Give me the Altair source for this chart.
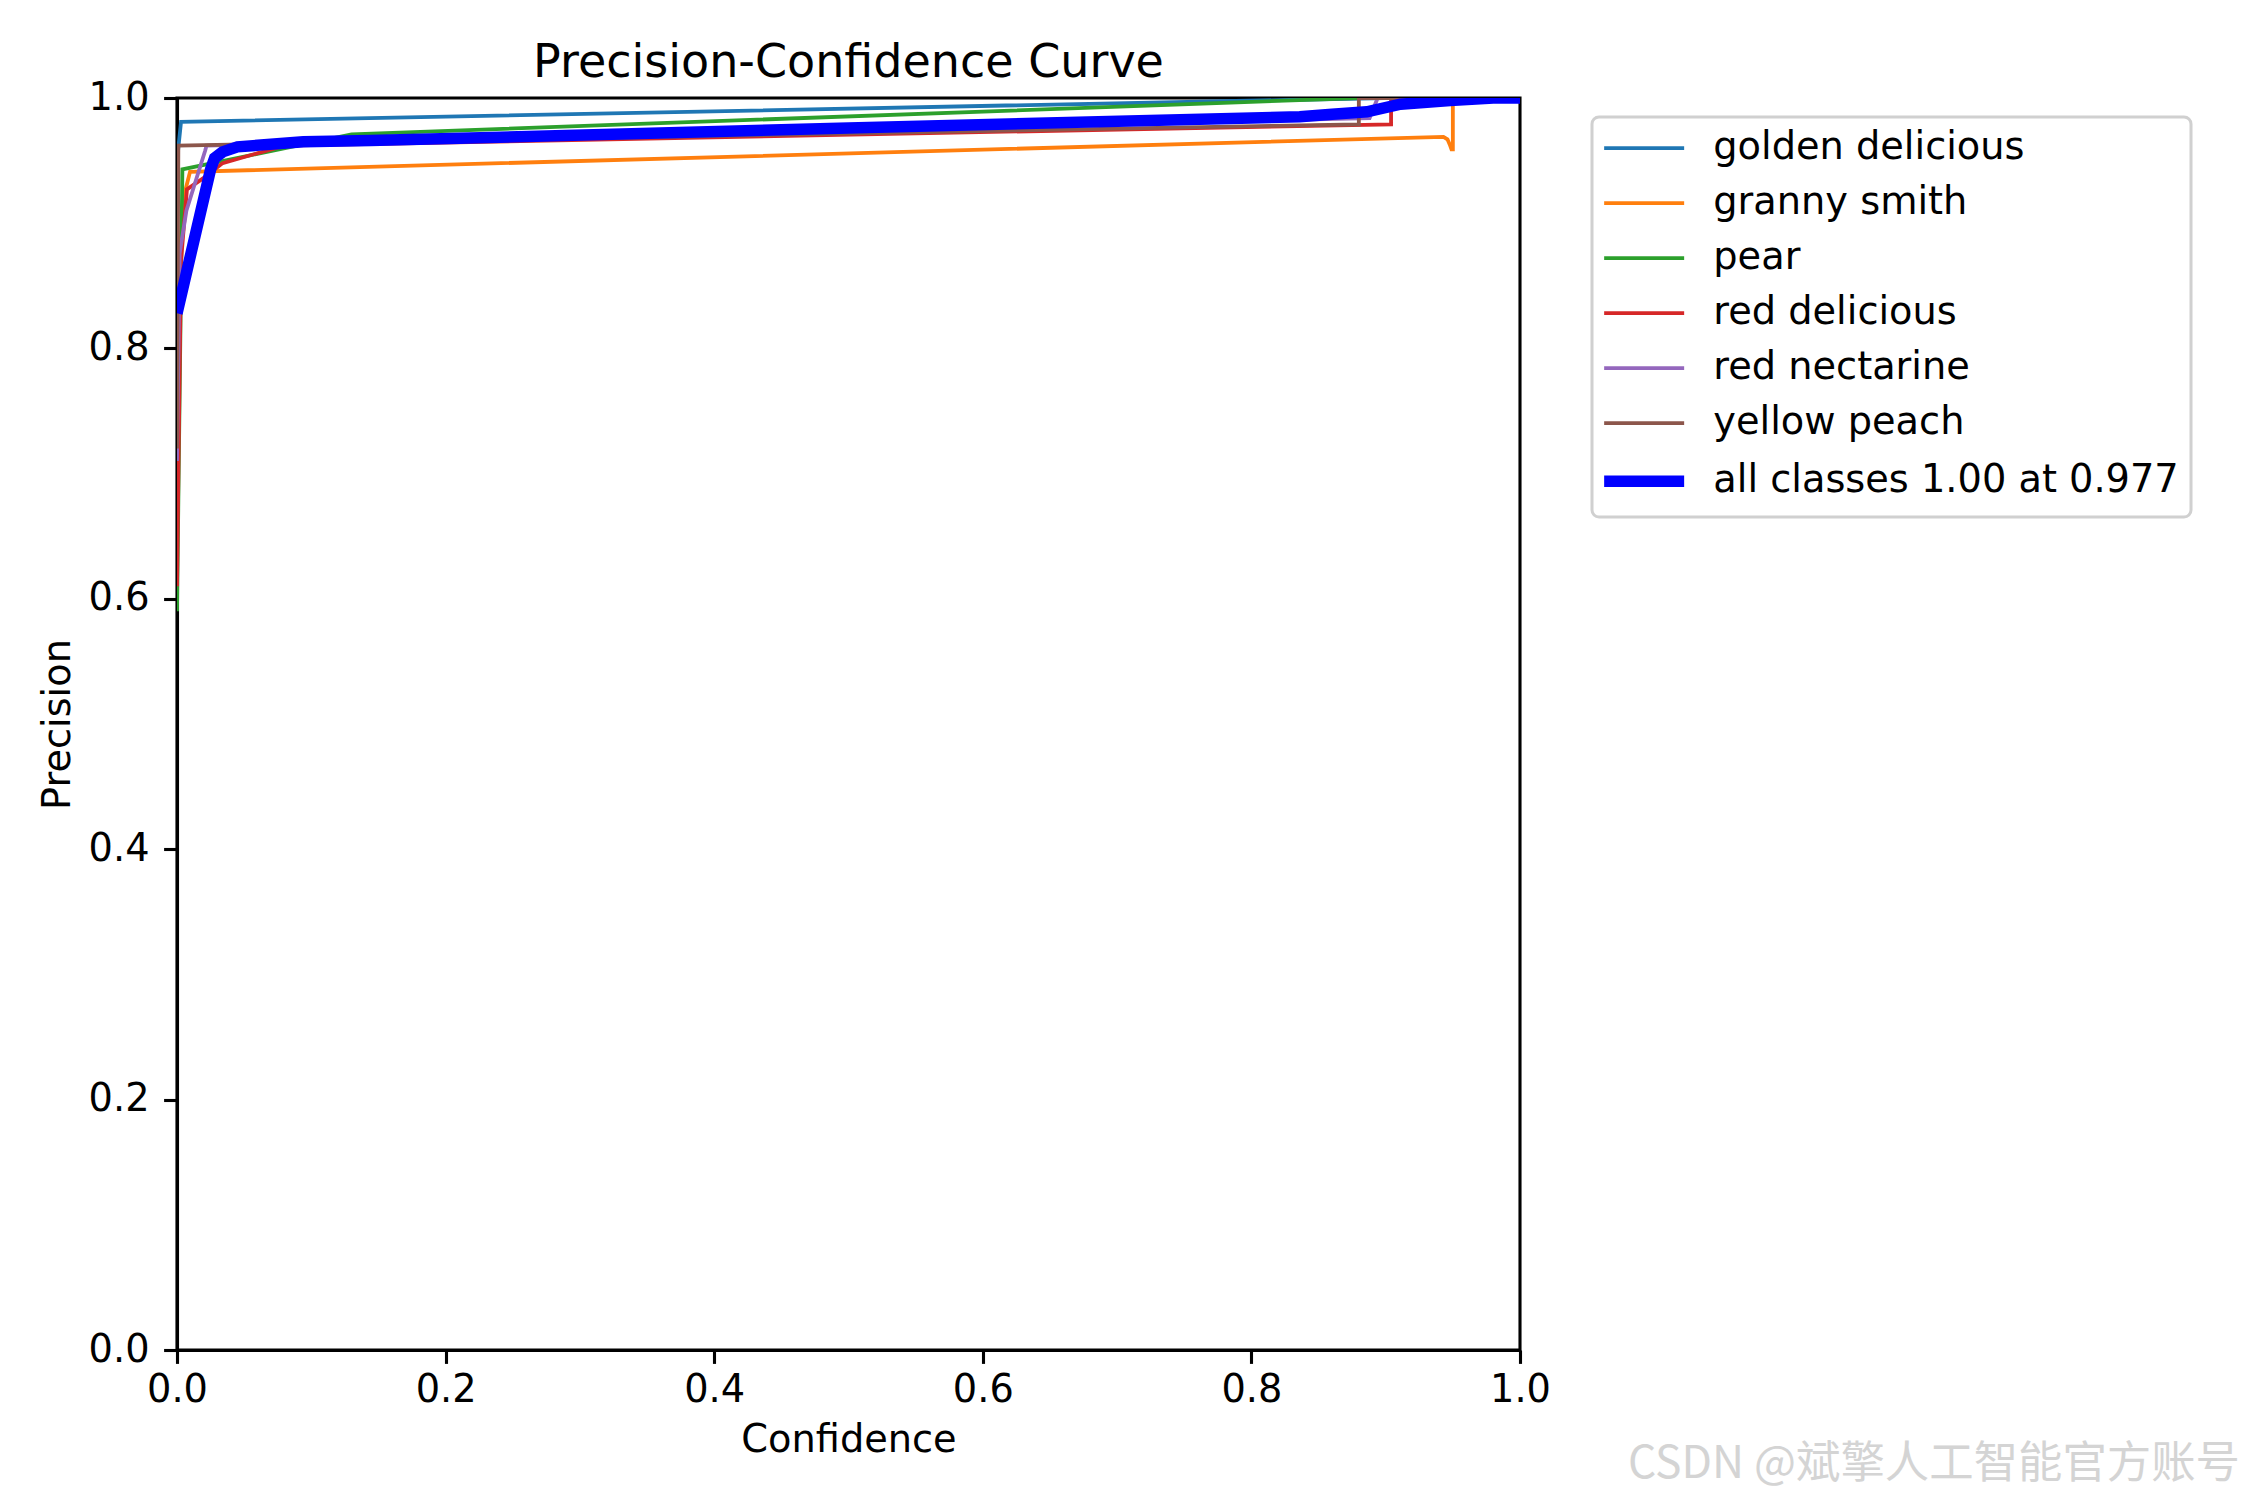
import altair as alt
import pandas as pd

ALL = "all classes 1.00 at 0.977"
series_names = ["golden delicious", "granny smith", "pear", "red delicious",
                "red nectarine", "yellow peach", ALL]
series_colors = ["#1f77b4", "#ff7f0e", "#2ca02c", "#d62728", "#9467bd", "#8c564b", "#0000ff"]

gd_x = [0.0, 0.003, 0.9, 1.0]
gd_y = [0.95, 0.981, 1.0, 1.0]

gs_x = [0.0, 0.002, 0.005, 0.0097, 0.943, 0.946, 0.948, 0.949, 0.950, 0.950, 1.0]
gs_y = [0.85, 0.871, 0.921, 0.941, 0.969, 0.967, 0.962, 0.959, 0.959, 1.0, 1.0]

pear_x = [0.0, 0.004, 0.13, 0.88, 1.0]
pear_y = [0.59, 0.943, 0.971, 1.0, 1.0]

rd_x = [0.0, 0.003, 0.0074, 0.021, 0.034, 0.08, 0.904, 0.904, 1.0]
rd_y = [0.61, 0.87, 0.927, 0.937, 0.948, 0.962, 0.979, 1.0, 1.0]

rn_x = [0.0, 0.002, 0.007, 0.021, 0.022, 0.888, 0.894, 1.0]
rn_y = [0.71, 0.876, 0.910, 0.958, 0.962, 0.984, 1.0, 1.0]

yp_x = [0.0, 0.001, 0.88, 0.88, 1.0]
yp_y = [0.72, 0.962, 0.979, 1.0, 1.0]

all_x = [0.0, 0.025, 0.028, 0.034, 0.045, 0.094, 0.144, 0.5, 0.836, 0.86, 0.886, 0.911, 0.948, 0.98, 1.0]
all_y = [0.828, 0.943, 0.952, 0.957, 0.961, 0.965, 0.966, 0.976, 0.985, 0.987, 0.989, 0.995, 0.998, 1.0, 1.0]

tick_values = [0.0, 0.2, 0.4, 0.6, 0.8, 1.0]
watermark = "CSDN @斌擎人工智能官方账号"

series_points = [
    (series_names[0], gd_x, gd_y),
    (series_names[1], gs_x, gs_y),
    (series_names[2], pear_x, pear_y),
    (series_names[3], rd_x, rd_y),
    (series_names[4], rn_x, rn_y),
    (series_names[5], yp_x, yp_y),
    (series_names[6], all_x, all_y),
]
rows = []
for name, xs, ys in series_points:
    for i, (xv, yv) in enumerate(zip(xs, ys)):
        rows.append({"series": name, "conf": xv, "prec": yv, "idx": i})
df = pd.DataFrame(rows)

FONT = "DejaVu Sans"
FS = 38.3

x_enc = alt.X("conf:Q", title="Confidence",
              scale=alt.Scale(domain=[0, 1], nice=False, zero=False),
              axis=alt.Axis(values=tick_values, format=".1f", labelPadding=7.6, titlePadding=13,
                            labelFlush=False))
y_enc = alt.Y("prec:Q", title="Precision",
              scale=alt.Scale(domain=[0, 1], nice=False, zero=False),
              axis=alt.Axis(values=tick_values, format=".1f", labelPadding=14.6, titlePadding=11,
                            labelFlush=False))
color_enc = alt.Color(
    "series:N",
    scale=alt.Scale(domain=series_names, range=series_colors),
    legend=alt.Legend(
        title=None, orient="none", legendX=1415, legendY=19,
        symbolType="M-4,0L4,0", symbolSize=400, symbolOffset=21,
        labelOffset=50,
        labelFont=FONT, labelFontSize=FS, labelColor="black", labelLimit=1000,
        symbolStrokeWidth={"expr": "datum.value === '" + ALL + "' ? 11.5 : 3.8"},
    ),
)

base = alt.Chart(df)
thin = base.transform_filter(alt.datum.series != ALL).mark_line(clip=True).encode(
    x=x_enc, y=y_enc, color=color_enc, order="idx:Q", strokeWidth=alt.value(3.8))
thick = base.transform_filter(alt.datum.series == ALL).mark_line(clip=True).encode(
    x=x_enc, y=y_enc, color=color_enc, order="idx:Q", strokeWidth=alt.value(11.5))

wm = alt.Chart(pd.DataFrame({"t": [watermark]})).mark_text(
    align="right", baseline="alphabetic", font="Liberation Sans Narrow, Noto Sans CJK SC",
    fontSize=44.4, color="#d4d4d4"
).encode(text="t:N", x=alt.value(2063), y=alt.value(1380))

chart = alt.layer(thin, thick, wm).properties(
    width=1343, height=1252,
    autosize=alt.AutoSizeParams(type="none"),
    padding={"left": 169, "top": 90, "right": 722, "bottom": 142},
    title=alt.TitleParams("Precision-Confidence Curve", font=FONT, fontSize=46, fontWeight="normal",
                          anchor="middle", frame="group", offset=13, dy=68, baseline="bottom",
                          color="black"),
).configure_view(stroke="black", strokeWidth=3.1).configure_axis(
    grid=False, domainColor="black", domainWidth=3.1, tickColor="black", tickWidth=3.1, tickSize=13.4,
    labelFont=FONT, labelFontSize=FS, labelColor="black",
    titleFont=FONT, titleFontSize=FS, titleFontWeight="normal", titleColor="black",
).configure_legend(
    padding=12, strokeColor="#d0d0d0", strokeWidth=3, cornerRadius=7, fillColor="white",
    rowPadding=16
)

chart.save("out.html", embed_options={"renderer": "svg", "actions": False})
